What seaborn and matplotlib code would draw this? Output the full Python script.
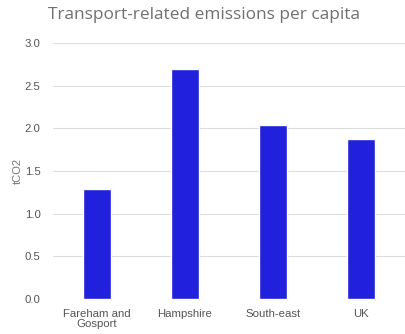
import seaborn as sns
import pandas as pd
from matplotlib import pyplot as plt

regions = ["Fareham and\nGosport", "Hampshire", "South-east", "UK"]
emissions = [1.29, 2.70, 2.04, 1.87]
yticks = [0.0, 0.5, 1.0, 1.5, 2.0, 2.5, 3.0]

sns.set_theme(style="whitegrid")
plt.rcParams['font.family'] = ['Liberation Sans', 'DejaVu Sans']

df = pd.DataFrame({"region": regions, "tco2": emissions})

fig = plt.figure(figsize=(4.05, 3.34), dpi=100)
ax = fig.add_axes([0.131, 0.105, 0.869, 0.766])

sns.barplot(data=df, x="region", y="tco2", color="#2020dd",
            saturation=1, width=0.32, ax=ax)

ax.set_ylim(0, 3.0)
ax.set_yticks(yticks)
ax.set_yticklabels([f"{t:.1f}" for t in yticks], fontsize=8.2, color="#555555")
ax.tick_params(axis="x", labelsize=8.2, labelcolor="#555555", pad=1)
for lbl in ax.get_xticklabels():
    lbl.set_linespacing(1.07)
ax.tick_params(axis="y", pad=9, length=0)
ax.set_xlabel("")
ax.set_ylabel("tCO2", fontsize=8, color="#777777", labelpad=1)
ax.grid(axis="y", color="#dddddd", linewidth=0.8)
ax.grid(axis="x", visible=False)
for s in ax.spines.values():
    s.set_visible(False)
ax.set_xlim(-0.5, 3.5)

fig.text(0.504, 0.955, "Transport-related emissions per capita", fontsize=12.4,
         color="#707070", family="Open Sans", ha="center", va="center")

fig.savefig("out.png", dpi=100)
